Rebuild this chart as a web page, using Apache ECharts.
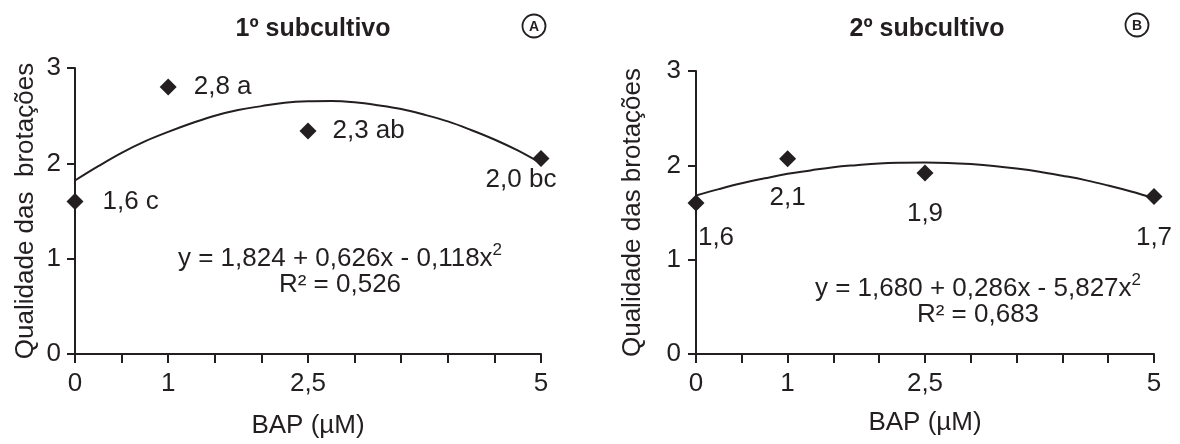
<!DOCTYPE html>
<html>
<head>
<meta charset="utf-8">
<script src="https://cdn.jsdelivr.net/npm/echarts@6/dist/echarts.min.js"></script>
<style>html,body{margin:0;padding:0;background:#fff}#c{width:1180px;height:444px}</style>
</head>
<body>
<div id="c"></div>
<script>
// ---- data ----
const bapA = [0, 1, 2.5, 5];
const qualA = [1.6, 2.8, 2.34, 2.05];
const labelsA = ['1,6 c', '2,8 a', '2,3 ab', '2,0 bc'];
const bapB = [0, 1, 2.5, 5];
const qualB = [1.6, 2.07, 1.92, 1.67];
const labelsB = ['1,6', '2,1', '1,9', '1,7'];
const curveX = [0, 0.25, 0.5, 0.75, 1, 1.25, 1.5, 1.75, 2, 2.25, 2.5, 2.75, 3, 3.25, 3.5, 3.75, 4, 4.25, 4.5, 4.75, 5];
const curveA = [1.82, 1.97, 2.11, 2.23, 2.33, 2.42, 2.50, 2.56, 2.60, 2.635, 2.65, 2.653, 2.64, 2.61, 2.57, 2.51, 2.44, 2.35, 2.25, 2.135, 2.00];
const curveB = [1.68, 1.748, 1.81, 1.862, 1.91, 1.946, 1.98, 2.002, 2.02, 2.028, 2.031, 2.026, 2.013, 1.994, 1.967, 1.933, 1.89, 1.843, 1.786, 1.723, 1.653];
const xTickValues = [0, 1, 2.5, 5];
const xTickLabels = ['0', '1', '2,5', '5'];
const yTickLabels = ['0', '1', '2', '3'];
const titleA = '1º subcultivo';
const titleB = '2º subcultivo';
const eqA = ['y = 1,824 + 0,626x - 0,118x', '2', 'R² = 0,526'];
const eqB = ['y = 1,680 + 0,286x - 5,827x', '2', 'R² = 0,683'];
const xName = 'BAP (µM)';
const yNameA = 'Qualidade das  brotações';
const yNameB = 'Qualidade das brotações';

// ---- styling ----
const C = '#231f20';
const FONT = '"Liberation Sans", Arial, sans-serif';
const FS = 26;
const labelCfgA = [
  {position: 'right', distance: 19},
  {position: 'right', distance: 17},
  {position: 'right', distance: 16},
  {position: 'bottom', distance: 0, offset: [-20, 0]}
];
const labelCfgB = [
  {position: 'bottom', distance: 13, offset: [20, 0]},
  {position: 'bottom', distance: 18},
  {position: 'bottom', distance: 19},
  {position: 'bottom', distance: 20}
];

function xAxis(gi, nameGap) {
  return {
    type: 'value', gridIndex: gi, min: 0, max: 5, interval: 0.5,
    name: xName, nameLocation: 'middle', nameGap: nameGap,
    nameTextStyle: {color: C, fontSize: FS, fontFamily: FONT},
    axisLine: {show: true, lineStyle: {color: C, width: 2}},
    axisTick: {show: true, inside: false, length: 9, lineStyle: {color: C, width: 2}},
    splitLine: {show: false},
    axisLabel: {
      color: C, fontSize: FS, fontFamily: FONT, margin: 17,
      formatter: function (v) {
        const i = xTickValues.findIndex(t => Math.abs(t - v) < 1e-9);
        return i >= 0 ? xTickLabels[i] : '';
      }
    }
  };
}
function yAxis(gi, name, nameGap, margin) {
  return {
    type: 'value', gridIndex: gi, min: 0, max: 3, interval: 1,
    name: name, nameLocation: 'middle', nameGap: nameGap, nameRotate: 90,
    nameTextStyle: {color: C, fontSize: FS, fontFamily: FONT},
    axisLine: {show: true, onZero: false, lineStyle: {color: C, width: 2}},
    axisTick: {show: true, inside: false, length: 8, lineStyle: {color: C, width: 2}},
    splitLine: {show: false},
    axisLabel: {color: C, fontSize: FS, fontFamily: FONT, margin: margin,
      formatter: v => yTickLabels[Math.round(v)]}
  };
}
function scatter(gi, xs, ys, labels, cfg) {
  return {
    type: 'scatter', xAxisIndex: gi, yAxisIndex: gi,
    symbol: 'diamond', symbolSize: 17, itemStyle: {color: C, opacity: 1},
    data: xs.map((x, i) => ({
      value: [x, ys[i]],
      label: Object.assign({show: true, formatter: labels[i], color: C, fontSize: FS, fontFamily: FONT}, cfg[i])
    })),
    z: 5
  };
}
function curve(gi, ys) {
  return {
    type: 'line', xAxisIndex: gi, yAxisIndex: gi, smooth: 0.4, showSymbol: false,
    symbol: 'none', lineStyle: {color: C, width: 2}, silent: true,
    data: curveX.map((x, i) => [x, ys[i]]), z: 3
  };
}
function txt(x, y, s, extra) {
  return {type: 'text', x: x, y: y, style: Object.assign({
    text: s, fill: C, font: FS + 'px ' + FONT, align: 'center', verticalAlign: 'middle'}, extra || {})};
}
function eqText(x, y, eq) {
  return {type: 'text', x: x, y: y, style: {
    text: '{m|' + eq[0] + '}{s|' + eq[1] + '}', align: 'center', verticalAlign: 'middle', fill: C,
    rich: {
      m: {fontSize: FS, fontFamily: FONT, fill: C, lineHeight: 30, verticalAlign: 'bottom'},
      s: {fontSize: 17, fontFamily: FONT, fill: C, lineHeight: 30, verticalAlign: 'top'}
    }}};
}
function badge(x, y, letter) {
  return [
    {type: 'circle', shape: {cx: x, cy: y, r: 11.5}, style: {fill: '#fff', stroke: C, lineWidth: 1.8}},
    {type: 'text', x: x, y: y + 1, style: {text: letter, fill: C, font: 'bold 14px ' + FONT, align: 'center', verticalAlign: 'middle'}}
  ];
}

const chart = echarts.init(document.getElementById('c'), null, {renderer: 'canvas'});
chart.setOption({
  animation: false,
  backgroundColor: '#fff',
  grid: [
    {left: 75, top: 68, width: 466, height: 290},
    {left: 696, top: 71, width: 458, height: 283}
  ],
  xAxis: [xAxis(0, 59), xAxis(1, 56)],
  yAxis: [yAxis(0, yNameA, 36, 14), yAxis(1, yNameB, 50, 15)],
  series: [
    curve(0, curveA), scatter(0, bapA, qualA, labelsA, labelCfgA),
    curve(1, curveB), scatter(1, bapB, qualB, labelsB, labelCfgB)
  ],
  graphic: [
    txt(313, 29, titleA, {font: 'bold 25px ' + FONT}),
    txt(927, 29, titleB, {font: 'bold 25px ' + FONT}),
    ...badge(534, 26, 'A'),
    ...badge(1137, 25, 'B'),
    eqText(340, 257, eqA), txt(340, 285, eqA[2]),
    eqText(978, 287, eqB), txt(978, 315, eqB[2])
  ]
});
</script>
</body>
</html>
